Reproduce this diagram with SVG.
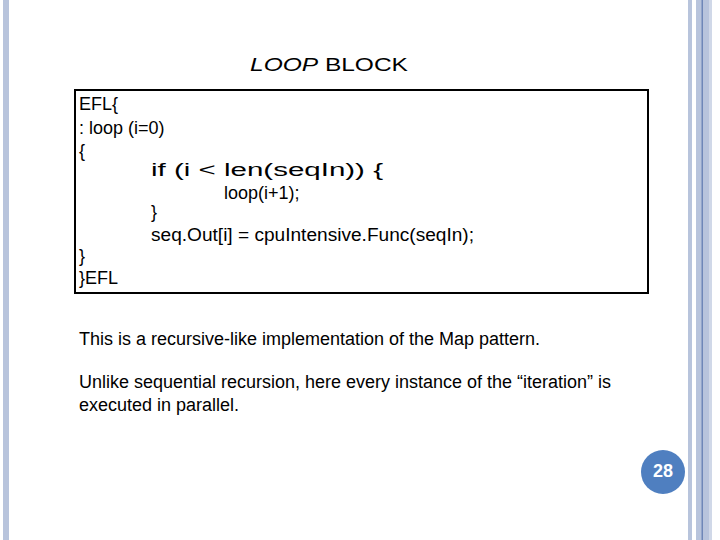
<svg xmlns="http://www.w3.org/2000/svg" width="720" height="540" viewBox="0 0 720 540">
<style>
text{font-family:"Liberation Sans",Arial,sans-serif;font-size:18px;fill:#000}
.bar{fill:#b8c4dc}
</style>
<rect width="720" height="540" fill="#fff"/>
<g id="frame">
<rect class="bar" x="3" y="0" width="6" height="540"/>
<rect class="bar" x="688" y="0" width="4" height="540"/>
<rect class="bar" x="696" y="0" width="13" height="540"/>
<rect x="701.5" y="0" width="1.5" height="540" fill="#6f87b8"/>
<rect x="709" y="0" width="3" height="540" fill="#d0d8e8"/>
</g>
<g id="title"><text x="250" y="71" font-size="21" textLength="158" lengthAdjust="spacingAndGlyphs"><tspan font-style="italic">LOOP</tspan> BLOCK</text></g>
<g id="code">
<rect x="75" y="90" width="573" height="203" fill="none" stroke="#000" stroke-width="2"/>
<text x="79" y="110">EFL{</text>
<text x="79" y="134">: loop (i=0)</text>
<text x="79" y="157">{</text>
<text x="151" y="176" textLength="232" lengthAdjust="spacingAndGlyphs">if (i &lt; len(seqIn)) {</text>
<text x="224" y="199">loop(i+1);</text>
<text x="151" y="218">}</text>
<text x="151" y="241" textLength="323" lengthAdjust="spacingAndGlyphs">seq.Out[i] = cpuIntensive.Func(seqIn);</text>
<text x="79" y="262">}</text>
<text x="79" y="284">}EFL</text>
</g>
<g id="body">
<text x="79" y="345" textLength="461" lengthAdjust="spacingAndGlyphs">This is a recursive-like implementation of the Map pattern.</text>
<text x="79" y="388" textLength="532" lengthAdjust="spacingAndGlyphs">Unlike sequential recursion, here every instance of the “iteration” is</text>
<text x="79" y="411">executed in parallel.</text>
</g>
<g id="page">
<circle cx="663" cy="472" r="22" fill="#4f7fc0"/>
<text x="663" y="477" font-size="13" font-weight="bold" text-anchor="middle" style="fill:#fff">28</text>
</g>
</svg>
